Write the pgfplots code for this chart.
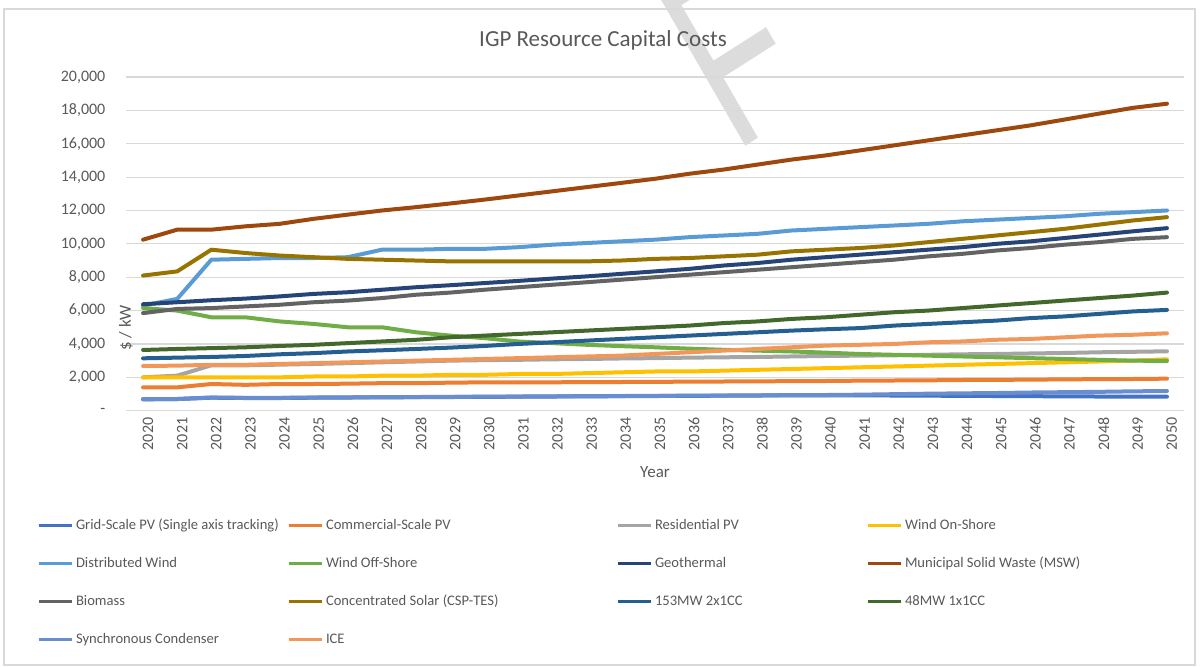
\documentclass[border=0pt]{standalone}
\usepackage{pgfplots}
\pgfplotsset{compat=1.18}
\usepackage{pgfplotstable}
\usepackage{fontspec}
\setmainfont{Carlito}
\newfontfamily\wmfont{Liberation Sans}

\definecolor{txtgray}{HTML}{595959}
\definecolor{grdgray}{HTML}{D9D9D9}
\definecolor{wmgray}{HTML}{DCDCDC}
\definecolor{cgsp}{HTML}{4472C4}
\definecolor{ccpv}{HTML}{ED7D31}
\definecolor{crpv}{HTML}{A5A5A5}
\definecolor{cwon}{HTML}{FFC000}
\definecolor{cdw}{HTML}{5B9BD5}
\definecolor{cwof}{HTML}{70AD47}
\definecolor{cgeo}{HTML}{264478}
\definecolor{cmsw}{HTML}{9E480E}
\definecolor{cbio}{HTML}{636363}
\definecolor{ccsp}{HTML}{997300}
\definecolor{cccb}{HTML}{255E91}
\definecolor{cccs}{HTML}{43682B}
\definecolor{csyn}{HTML}{698ED0}
\definecolor{cice}{HTML}{F1975A}

% capital cost, $/kW
\pgfplotstableread{
year gsp  cpv  rpv  won  dw    wof  geo   msw   bio   csp   ccb  ccs  syn  ice
2020 680  1400 2000 2000 6300  6150 6380  10250 5850  8100  3140 3640 700  2680
2021 700  1400 2100 2000 6700  6000 6500  10850 6100  8350  3180 3700 700  2700
2022 780  1600 2720 2000 9050  5600 6620  10850 6150  9650  3220 3750 790  2750
2023 760  1550 2720 2000 9100  5600 6720  11050 6250  9450  3280 3800 770  2750
2024 760  1600 2760 2000 9150  5350 6850  11200 6350  9300  3380 3880 770  2800
2025 780  1600 2800 2050 9150  5200 7000  11500 6500  9200  3450 3950 790  2850
2026 790  1620 2850 2050 9200  5000 7100  11750 6600  9100  3550 4050 800  2900
2027 800  1650 2900 2100 9650  5000 7250  12000 6750  9050  3620 4150 810  2950
2028 810  1650 2950 2100 9650  4700 7400  12200 6950  9000  3700 4250 820  3000
2029 820  1680 3000 2150 9700  4500 7520  12420 7080  8950  3780 4400 830  3050
2030 830  1700 3030 2150 9700  4350 7650  12650 7250  8950  3880 4500 840  3100
2031 840  1700 3050 2200 9800  4150 7780  12900 7400  8950  4000 4600 850  3150
2032 850  1700 3080 2200 9950  4050 7920  13150 7550  8950  4100 4700 860  3200
2033 860  1720 3100 2250 10050 3950 8050  13400 7700  8950  4200 4800 870  3250
2034 870  1720 3130 2300 10150 3870 8200  13650 7850  9000  4300 4900 880  3300
2035 880  1730 3150 2350 10250 3800 8350  13900 8000  9100  4400 5000 890  3400
2036 890  1740 3180 2350 10400 3720 8500  14200 8150  9150  4500 5100 900  3500
2037 900  1750 3200 2400 10500 3650 8700  14450 8300  9250  4600 5250 910  3600
2038 910  1760 3220 2450 10600 3600 8850  14750 8450  9350  4700 5350 920  3700
2039 920  1770 3250 2500 10800 3550 9050  15050 8600  9550  4800 5500 930  3800
2040 920  1780 3280 2550 10900 3480 9200  15300 8750  9650  4880 5600 940  3900
2041 920  1800 3300 2600 11000 3400 9350  15600 8900  9750  4950 5750 960  3950
2042 910  1810 3320 2650 11100 3350 9500  15900 9050  9900  5100 5900 990  4000
2043 900  1820 3350 2700 11200 3300 9650  16200 9250  10100 5200 6000 1020 4100
2044 890  1840 3380 2750 11350 3250 9800  16500 9400  10300 5300 6150 1040 4150
2045 880  1850 3400 2800 11450 3200 10000 16800 9600  10500 5400 6300 1060 4250
2046 870  1860 3430 2850 11550 3150 10150 17100 9750  10700 5550 6450 1090 4300
2047 860  1880 3460 2900 11650 3100 10350 17450 9950  10900 5650 6600 1110 4400
2048 850  1890 3500 2950 11800 3050 10550 17800 10100 11150 5800 6750 1130 4500
2049 850  1900 3530 3000 11900 3000 10750 18150 10300 11400 5950 6900 1160 4550
2050 840  1920 3560 3080 12000 2980 10940 18400 10400 11600 6040 7080 1180 4640
}\capcost

% legend column widths
\newcommand\la[1]{\makebox[107pt][l]{\hspace{1.5pt}#1}}
\newcommand\lb[1]{\makebox[146.5pt][l]{\hspace{1.5pt}#1}}
\newcommand\lc[1]{\hspace{1.5pt}#1}

\begin{document}
\begin{tikzpicture}
\useasboundingbox (0pt,0pt) rectangle (601pt,-333.5pt);
\begin{scope}
  \clip (0pt,0pt) rectangle (601pt,-333.5pt);
  \begin{scope}[shift={(367.3pt,-76.6pt)}, cm={0.548,0.350,-0.5,0.866,(0,0)}]
    \node[transform shape, anchor=base west, inner sep=0pt, text=wmgray,
          font=\wmfont\fontsize{125}{125}\selectfont] at (0,0) {F};
  \end{scope}
\end{scope}
\draw[grdgray, line width=0.6pt] (2pt,-4.5pt) rectangle (597.5pt,-332.5pt);
\node[text=txtgray, font=\fontsize{11.5}{13}\selectfont] at (301.5pt,-20pt) {IGP Resource Capital Costs};

\begin{axis}[
  at={(63pt,-205.35pt)}, anchor=south west,
  scale only axis, width=529pt, height=166.85pt,
  xmin=2019.5, xmax=2050.5, ymin=0, ymax=20000,
  xtick={2020,...,2050}, ytick={0,2000,...,20000},
  scaled y ticks=false,
  yticklabels={{-\hspace{4pt}},{2,000},{4,000},{6,000},{8,000},{10,000},
               {12,000},{14,000},{16,000},{18,000},{20,000}},
  /pgf/number format/assume math mode=true,
  /pgf/number format/1000 sep={},
  axis lines*=left,
  y axis line style={draw=none},
  x axis line style={draw=grdgray, line width=0.6pt},
  major tick length=0pt,
  ymajorgrids, grid style={draw=grdgray, line width=0.6pt},
  tick label style={text=txtgray, font=\fontsize{8}{9}\selectfont},
  xticklabel style={rotate=90, anchor=east, yshift=-2.5pt},
  yticklabel style={xshift=-6.8pt},
  xlabel={Year}, ylabel={\$ / kW},
  label style={text=txtgray, font=\fontsize{8.5}{10}\selectfont},
  xlabel style={at={(axis description cs:0.5,0)}, anchor=center, yshift=-30.65pt},
  ylabel style={at={(axis description cs:0,0.5)}, anchor=center, xshift=-42pt},
  every axis plot/.append style={line width=2pt, line join=round, line cap=round},
  no markers,
  legend image code/.code={\draw[#1, line width=1.5pt, line cap=butt] (0pt,0pt) -- (16.5pt,0pt);},
  legend cell align=left,
  legend style={at={(axis description cs:0,0)}, anchor=north west,
    xshift=-44.5pt, yshift=-53.65pt, draw=none, fill=none,
    inner sep=0pt, outer sep=0pt, column sep=0pt, row sep=12pt,
    font=\fontsize{7.3}{8}\selectfont, text=txtgray,
    nodes={inner sep=0pt, text height=5.5pt, text depth=1.5pt}},
  legend columns=4,
]
\addplot[cgsp] table[x=year,y=gsp]{\capcost};
\addlegendentry{\la{Grid-Scale PV (Single axis tracking)}}
\addplot[ccpv] table[x=year,y=cpv]{\capcost};
\addlegendentry{\lb{Commercial-Scale PV}}
\addplot[crpv] table[x=year,y=rpv]{\capcost};
\addlegendentry{\la{Residential PV}}
\addplot[cwon] table[x=year,y=won]{\capcost};
\addlegendentry{\lc{Wind On-Shore}}
\addplot[cdw] table[x=year,y=dw]{\capcost};
\addlegendentry{\la{Distributed Wind}}
\addplot[cwof] table[x=year,y=wof]{\capcost};
\addlegendentry{\lb{Wind Off-Shore}}
\addplot[cgeo] table[x=year,y=geo]{\capcost};
\addlegendentry{\la{Geothermal}}
\addplot[cmsw] table[x=year,y=msw]{\capcost};
\addlegendentry{\lc{Municipal Solid Waste (MSW)}}
\addplot[cbio] table[x=year,y=bio]{\capcost};
\addlegendentry{\la{Biomass}}
\addplot[ccsp] table[x=year,y=csp]{\capcost};
\addlegendentry{\lb{Concentrated Solar (CSP-TES)}}
\addplot[cccb] table[x=year,y=ccb]{\capcost};
\addlegendentry{\la{153MW 2x1CC}}
\addplot[cccs] table[x=year,y=ccs]{\capcost};
\addlegendentry{\lc{48MW 1x1CC}}
\addplot[csyn] table[x=year,y=syn]{\capcost};
\addlegendentry{\la{Synchronous Condenser}}
\addplot[cice] table[x=year,y=ice]{\capcost};
\addlegendentry{\lb{ICE}}
\end{axis}
\end{tikzpicture}
\end{document}
